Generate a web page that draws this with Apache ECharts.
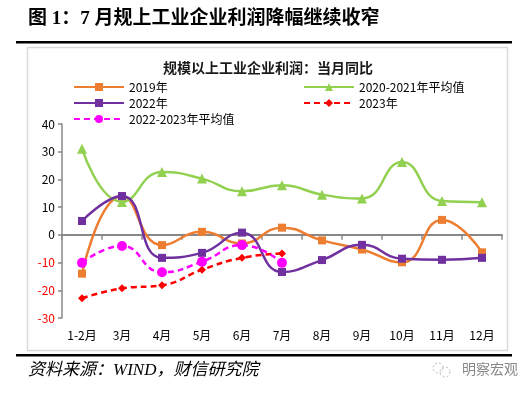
<!DOCTYPE html>
<html><head><meta charset="utf-8">
<script src="https://cdn.jsdelivr.net/npm/echarts@6/dist/echarts.min.js"></script>
<style>html,body{margin:0;padding:0;background:#fff}#c{width:530px;height:395px}</style>
</head><body><div id="c"></div>
<script>
const categories = ['1-2月','3月','4月','5月','6月','7月','8月','9月','10月','11月','12月'];
const s2019 = [-14.0, 13.9, -3.7, 1.1, -3.1, 2.6, -2.0, -5.3, -9.9, 5.4, -6.3];
const s2020_2021 = [31.1, 11.9, 22.7, 20.3, 15.7, 17.9, 14.5, 13.1, 26.3, 12.2, 11.8];
const s2022 = [5.0, 14.0, -8.3, -6.5, 0.8, -13.4, -9.1, -3.6, -8.6, -9.0, -8.3];
const s2023 = [-22.9, -19.3, -18.2, -12.6, -8.3, -6.7];
const s2022_2023 = [-10.1, -4.0, -13.5, -9.7, -3.7, -10.1];
const yTicks = {min: -30, max: 40, interval: 10};

const CJK = '"Noto Sans CJK SC", "Liberation Sans", sans-serif';
const chart = echarts.init(document.getElementById('c'));
function legend(name, left, top){
  return {data:[name], left:left, top:top, padding:0, itemWidth:50, itemHeight:10, itemGap:6,
    textStyle:{fontSize:12, color:'#000', fontFamily:CJK}};
}
chart.setOption({
  animation:false,
  textStyle:{fontFamily:CJK},
  title:{text:'规模以上工业企业利润：当月同比', left:263, textAlign:'center', top:56,
    textStyle:{fontSize:14, fontWeight:'bold', color:'#1a1a1a', fontFamily:CJK}},
  legend:[
    legend('2019年',73,81), legend('2020-2021年平均值',303,81),
    legend('2022年',73,97), legend('2023年',303,97),
    legend('2022-2023年平均值',73,113)
  ],
  grid:{left:62, right:28, top:124, bottom:77},
  xAxis:[
    {type:'category', data:categories, boundaryGap:true,
     axisLine:{onZero:true, lineStyle:{color:'#888', width:2}},
     axisTick:{show:true, length:5, lineStyle:{color:'#888', width:1.5}},
     axisLabel:{show:false}},
    {type:'category', data:categories, boundaryGap:true, position:'bottom',
     axisLine:{show:false, onZero:false}, axisTick:{show:false},
     axisLabel:{fontSize:12, color:'#000', margin:11, fontFamily:CJK}}
  ],
  yAxis:{type:'value', min:yTicks.min, max:yTicks.max, interval:yTicks.interval,
    splitLine:{show:false},
    axisLine:{show:true, lineStyle:{color:'#888', width:1.5}},
    axisTick:{show:true, length:4, lineStyle:{color:'#888', width:1.5}},
    axisLabel:{fontSize:12, margin:7, fontFamily:CJK,
      color:function(v){ return Number(v) < 0 ? '#FF0000' : '#000'; }}},
  series:[
    {name:'2019年', type:'line', data:s2019, smooth:true, symbol:'rect', symbolSize:8,
     lineStyle:{color:'#ED7D31', width:2.5}, itemStyle:{color:'#ED7D31'}},
    {name:'2020-2021年平均值', type:'line', data:s2020_2021, smooth:true, symbol:'triangle', symbolSize:10,
     lineStyle:{color:'#92D050', width:2.5}, itemStyle:{color:'#92D050'}},
    {name:'2022年', type:'line', data:s2022, smooth:true, symbol:'rect', symbolSize:8,
     lineStyle:{color:'#7030A0', width:2.5}, itemStyle:{color:'#7030A0'}},
    {name:'2023年', type:'line', data:s2023, smooth:true, symbol:'diamond', symbolSize:8,
     lineStyle:{color:'#FF0000', width:2.5, type:[6,4]}, itemStyle:{color:'#FF0000'}},
    {name:'2022-2023年平均值', type:'line', data:s2022_2023, smooth:true, symbol:'circle', symbolSize:10,
     lineStyle:{color:'#FF00FF', width:2.5, type:[6,4]}, itemStyle:{color:'#FF00FF'}}
  ],
  graphic:[
    {type:'text', left:28, top:10, style:{text:'图 1：7 月规上工业企业利润降幅继续收窄',
      font:'bold 19px "Liberation Serif", "Noto Sans CJK SC", serif', fill:'#000'}},
    {type:'rect', shape:{x:16, y:41, width:496, height:2.5}, style:{fill:'#000'}},
    {type:'rect', shape:{x:27.5, y:47.5, width:480, height:303}, style:{fill:'none', stroke:'#D9D9D9', lineWidth:1.5}, z:-1},
    {type:'rect', shape:{x:16, y:354, width:496, height:2.5}, style:{fill:'#000'}},
    {type:'text', left:28, top:362, style:{text:'资料来源：WIND，财信研究院',
      font:'italic 17px "Liberation Serif", "Noto Sans CJK SC", serif', fill:'#000'}},
    {type:'circle', shape:{cx:438, cy:368, r:5}, style:{fill:'none', stroke:'#bbb', lineWidth:1, lineDash:[2,2]}},
    {type:'circle', shape:{cx:445, cy:372, r:5}, style:{fill:'none', stroke:'#bbb', lineWidth:1, lineDash:[2,2]}},
    {type:'text', left:462, top:362, style:{text:'明察宏观', font:'14px "Noto Sans CJK SC", sans-serif', fill:'#888'}}
  ]
});
</script></body></html>
